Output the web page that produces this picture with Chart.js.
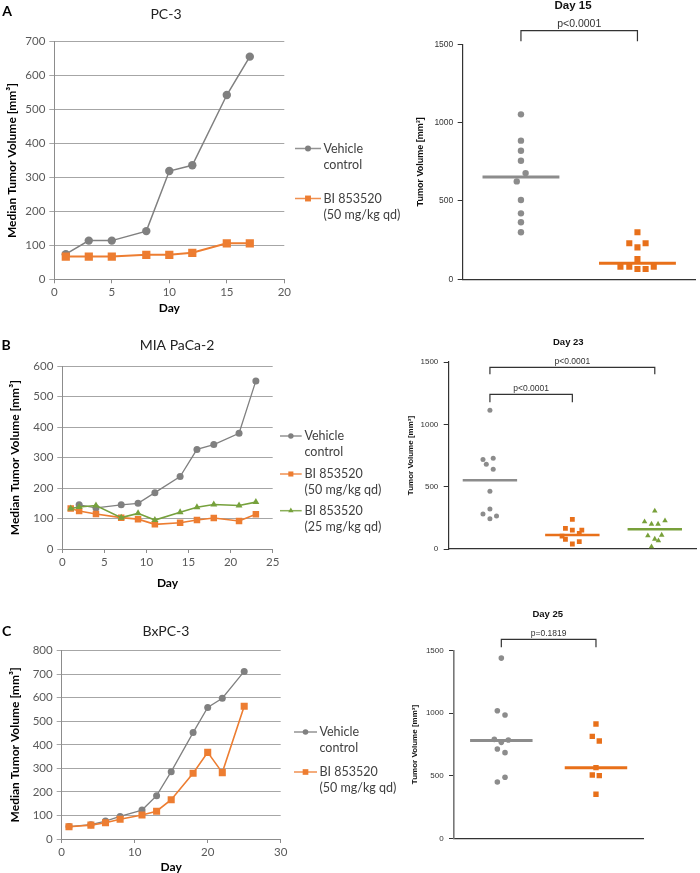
<!DOCTYPE html>
<html>
<head>
<meta charset="utf-8">
<script src="https://cdn.jsdelivr.net/npm/chart.js@4.4.1/dist/chart.umd.min.js"></script>
<style>
  body { margin: 0; background: #fff; }
  #fig { position: relative; width: 700px; height: 873px; overflow: hidden; }
  canvas { position: absolute; }
</style>
</head>
<body>
<div id="fig">
  <canvas id="lineA" width="415" height="320" style="left:0;top:0"></canvas>
  <canvas id="dotA" width="305" height="300" style="left:395px;top:0"></canvas>
  <canvas id="lineB" width="415" height="285" style="left:0;top:310px"></canvas>
  <canvas id="dotB" width="305" height="285" style="left:395px;top:310px"></canvas>
  <canvas id="lineC" width="415" height="273" style="left:0;top:600px"></canvas>
  <canvas id="dotC" width="305" height="273" style="left:395px;top:600px"></canvas>
</div>
<script>
// ---- A: PC-3 ----
const daysA = [1, 3, 5, 8, 10, 12, 15, 17];
const vehicleA = [74, 114, 114, 142, 319, 336, 543, 656];
const bi50A = [67, 67, 67, 72, 72, 78, 106, 106];
// day 15 dot plot (dx = horizontal scatter of the dots)
const vehD15 = [1053, 885, 821, 757, 678, 625, 506, 421, 364, 300];
const vehD15dx = [0, 0, 0, 0, 0.04, -0.036, 0, 0, 0, 0];
const biD15 = [300, 230, 230, 204, 130, 80, 80, 66, 66, 80];
const biD15dx = [0, -0.07, 0.07, 0, 0, -0.146, -0.07, 0, 0.07, 0.14];
const medD15 = [653, 102];

// ---- B: MIA PaCa-2 ----
const daysB = [1, 2, 4, 7, 9, 11, 14, 16, 18, 21, 23];
const vehicleB = [null, 145, 135, 145, 150, 185, 238, 327, 343, 380, 552];
const bi50B = [133, 125, 115, 103, 98, 81, 86, 95, 102, 92, 114];
const bi25B = [133, 138, 143, 103, 117, 95, 121, 137, 146, 143, 154];
// day 23 dot plot
const vehD23 = [1112, 717, 727, 679, 639, 463, 321, 281, 265, 243];
const vehD23dx = [0, -0.084, 0.04, -0.044, 0.04, 0, 0, -0.084, 0.08, 0];
const bi50D23 = [238, 166, 152, 152, 126, 104, 78, 59, 40];
const bi50D23dx = [0, -0.084, 0, 0.115, 0.084, -0.125, -0.084, 0.084, 0];
const bi25D23 = [305, 219, 227, 200, 200, 107, 112, 80, 67, 18];
const bi25D23dx = [0, -0.124, 0.124, -0.04, 0.04, -0.084, 0.084, 0, 0.044, -0.04];
const medD23 = [551, 112, 158];

// ---- C: BxPC-3 ----
const daysC = [1, 4, 6, 8, 11, 13, 15, 18, 20, 22, 25];
const vehicleC = [53, 61, 76, 96, 123, 184, 286, 452, 559, 598, 712];
const bi50C = [52, 59, 69, 84, 102, 118, 167, 279, 368, 282, 564];
// day 25 dot plot
const vehD25 = [1441, 1020, 986, 791, 767, 786, 714, 685, 488, 450];
const vehD25dx = [0, -0.042, 0.039, -0.074, 0, 0.074, -0.042, 0.039, 0.039, -0.042];
const biD25 = [914, 815, 778, 565, 506, 501, 352];
const biD25dx = [0, -0.039, 0.035, 0, -0.039, 0.035, 0];
const medD25 = [781, 565];

const legendVeh = ['Vehicle', 'control'];
const legend50 = ['BI 853520', '(50 mg/kg qd)'];
const legend25 = ['BI 853520', '(25 mg/kg qd)'];

const F_LINE = 'Lato, "Liberation Sans", sans-serif';
const F_DOT = '"Liberation Sans", Arial, sans-serif';
const GRAY = '#808080', ORANGE = '#ed7d31', GREEN = '#76a13c';
const DGRAY = '#8c8c8c', DORANGE = '#e8701a', DGREEN = '#78a03a';

function marker(ctx, style, x, y, r, color) {
    ctx.fillStyle = color;
    ctx.beginPath();
    if (style === 'rect') {
        const s = r * Math.SQRT1_2;
        ctx.rect(x - s, y - s, 2 * s, 2 * s);
    } else if (style === 'triangle') {
        for (let k = 0; k < 3; k++) {
            const a = k * 2 * Math.PI / 3;
            ctx.lineTo(x + Math.sin(a) * r, y - Math.cos(a) * r);
        }
        ctx.closePath();
    } else {
        ctx.arc(x, y, r, 0, 2 * Math.PI);
    }
    ctx.fill();
}

// letters, titles, excel-like legend and p-value brackets
const decoPlugin = {
    id: 'deco',
    afterDraw(chart, args, o) {
        const ctx = chart.ctx;
        ctx.save();
        ctx.textBaseline = 'middle';
        (o.texts || []).forEach(function (t) {
            ctx.font = t.font;
            ctx.fillStyle = t.color || '#000';
            ctx.textAlign = t.align || 'center';
            ctx.fillText(t.text, t.x, t.y);
        });
        if (o.legend) {
            const L = o.legend;
            L.rows.forEach(function (row) {
                const ds = chart.data.datasets[row.ds];
                ctx.strokeStyle = ds.borderColor;
                ctx.lineWidth = 1.5;
                ctx.globalAlpha = 0.85;
                ctx.beginPath();
                ctx.moveTo(L.x0, row.y);
                ctx.lineTo(L.x1, row.y);
                ctx.stroke();
                ctx.globalAlpha = 1;
                marker(ctx, ds.pointStyle, (L.x0 + L.x1) / 2, row.y, ds.pointRadius * L.scale, ds.pointBackgroundColor);
                ctx.font = L.font;
                ctx.fillStyle = '#404040';
                ctx.textAlign = 'left';
                row.lines.forEach(function (s, k) {
                    ctx.fillText(s, L.tx, row.y + k * L.gap);
                });
            });
        }
        if (o.brackets) {
            const xs = chart.scales.x, ys = chart.scales.y;
            o.brackets.forEach(function (b) {
                const x1 = xs.getPixelForValue(b.a), x2 = xs.getPixelForValue(b.b);
                const y = ys.getPixelForValue(b.y), yl = ys.getPixelForValue(b.leg);
                ctx.strokeStyle = '#333';
                ctx.lineWidth = 1.2;
                ctx.beginPath();
                ctx.moveTo(x1, yl);
                ctx.lineTo(x1, y);
                ctx.lineTo(x2, y);
                ctx.lineTo(x2, yl);
                ctx.stroke();
                ctx.font = o.bracketFont;
                ctx.fillStyle = '#333';
                ctx.textAlign = 'center';
                ctx.fillText(b.text, (x1 + x2) / 2, y - o.bracketGap);
            });
        }
        ctx.restore();
    }
};

function pts(xs, ys) {
    return xs.map(function (x, i) { return { x: x, y: ys[i] }; });
}

function lineSet(xs, ys, color, style, r, w, order) {
    return {
        data: pts(xs, ys), borderColor: color, backgroundColor: color,
        pointBackgroundColor: color, pointBorderColor: color, pointBorderWidth: 0,
        pointStyle: style, pointRadius: r, borderWidth: w, order: order, tension: 0
    };
}

function lineChart(id, g, sets, xMax, xStep, yMax, deco) {
    const cv = document.getElementById(id);
    const W = cv.width, H = cv.height;
    return new Chart(cv, {
        type: 'line',
        data: { datasets: sets },
        options: {
            responsive: false, animation: false, devicePixelRatio: 1,
            layout: { padding: { left: 0, top: g.top, right: W - g.right, bottom: 0 } },
            plugins: { legend: { display: false }, tooltip: { enabled: false }, deco: deco },
            scales: {
                x: {
                    type: 'linear', min: 0, max: xMax,
                    ticks: { stepSize: xStep, color: '#595959', font: { family: F_LINE, size: 11.5 }, padding: 2, maxRotation: 0 },
                    grid: { drawOnChartArea: false, tickLength: 4, color: '#8c8c8c' },
                    border: { color: '#8c8c8c' },
                    title: {
                        display: true, text: 'Day', color: '#000',
                        font: { family: F_LINE, size: 12, weight: 'bold' },
                        padding: { top: 0, bottom: H - g.dayY - 7.2 }
                    },
                    afterFit: function (s) { s.height = H - g.bottom; }
                },
                y: {
                    min: 0, max: yMax,
                    ticks: { stepSize: 100, color: '#595959', font: { family: F_LINE, size: 11.5 }, padding: 4 },
                    grid: { color: '#a6a6a6', tickLength: 5 },
                    border: { color: '#8c8c8c' },
                    title: {
                        display: true, text: 'Median Tumor Volume [mm³]', color: '#000',
                        font: { family: F_LINE, size: 12, weight: 'bold' },
                        padding: { top: g.yTitleX - 7.2, bottom: 0 }
                    },
                    afterFit: function (s) { s.width = g.left; }
                }
            }
        },
        plugins: [decoPlugin]
    });
}

function dotSet(group, dx, ys, color, style, r) {
    return {
        data: ys.map(function (y, i) { return { x: group + dx[i], y: y }; }),
        backgroundColor: color, borderColor: color, pointBackgroundColor: color,
        pointStyle: style, pointRadius: r, pointBorderWidth: 0, order: 2
    };
}

function medianSet(group, m, color, w) {
    return {
        data: [{ x: group - 0.33, y: m }, { x: group + 0.33, y: m }],
        borderColor: color, borderWidth: w, pointRadius: 0, showLine: true, order: 1
    };
}

function dotChart(id, g, sets, nGroups, tickSize, titleSize, deco) {
    const cv = document.getElementById(id);
    const W = cv.width, H = cv.height;
    return new Chart(cv, {
        type: 'scatter',
        data: { datasets: sets },
        options: {
            responsive: false, animation: false, devicePixelRatio: 1,
            layout: { padding: { left: 0, top: g.top, right: W - g.right, bottom: 0 } },
            plugins: { legend: { display: false }, tooltip: { enabled: false }, deco: deco },
            scales: {
                x: {
                    type: 'linear', min: 0.5, max: nGroups + 0.5,
                    ticks: { display: false },
                    grid: { drawOnChartArea: false, drawTicks: false },
                    border: { color: '#333', width: 1.2 },
                    afterFit: function (s) { s.height = H - g.bottom; }
                },
                y: {
                    min: 0, max: 1500,
                    ticks: {
                        stepSize: 500, color: '#333', padding: g.pad,
                        font: { family: F_DOT, size: tickSize },
                        callback: function (v) { return String(v); }
                    },
                    grid: { drawOnChartArea: false, tickLength: 5, color: '#333' },
                    border: { color: g.axisColor || '#333', width: g.axisWidth || 1.2 },
                    title: {
                        display: true, text: 'Tumor Volume [mm³]', color: '#111',
                        font: { family: F_DOT, size: titleSize, weight: 'bold' },
                        padding: { top: g.yTitleX - titleSize * 0.6, bottom: 0 }
                    },
                    afterFit: function (s) { s.width = g.left; }
                }
            }
        },
        plugins: [decoPlugin]
    });
}

const bold14 = 'bold 14px ' + F_LINE;
const reg14 = '14px ' + F_LINE;
const leg12 = '12.5px ' + F_LINE;

// ---- panel A ----
lineChart('lineA', { left: 54.3, right: 284.3, top: 41.7, bottom: 279.3, dayY: 308.3, yTitleX: 12 },
    [lineSet(daysA, vehicleA, GRAY, 'circle', 4.2, 1.5, 2),
     lineSet(daysA, bi50A, ORANGE, 'rect', 5.8, 2, 1)],
    20, 5, 700,
    {
        texts: [{ text: 'A', x: 7, y: 11.5, font: bold14 }, { text: 'PC-3', x: 166, y: 14.3, font: reg14, color: '#222' }],
        legend: {
            x0: 295, x1: 321, tx: 323.5, gap: 16.5, font: leg12, scale: 0.72,
            rows: [{ ds: 0, y: 148.5, lines: legendVeh }, { ds: 1, y: 198.5, lines: legend50 }]
        }
    });

dotChart('dotA', { left: 67.7, right: 303, top: 44.3, bottom: 279.3, yTitleX: 25.5, pad: 4.4 },
    [dotSet(1, vehD15dx, vehD15, DGRAY, 'circle', 3.2),
     dotSet(2, biD15dx, biD15, DORANGE, 'rect', 4.3),
     medianSet(1, medD15[0], DGRAY, 3),
     medianSet(2, medD15[1], DORANGE, 3)],
    2, 8.5, 9,
    {
        texts: [{ text: 'Day 15', x: 178, y: 6, font: 'bold 11.5px ' + F_DOT, color: '#111' }],
        brackets: [{ a: 1, b: 2, y: 1587, leg: 1519, text: 'p<0.0001' }],
        bracketFont: '10.5px ' + F_DOT, bracketGap: 6.8
    });

// ---- panel B ----
lineChart('lineB', { left: 62.3, right: 272.7, top: 56.3, bottom: 239, dayY: 273.3, yTitleX: 15.5 },
    [lineSet(daysB, vehicleB, GRAY, 'circle', 3.5, 1.3, 3),
     lineSet(daysB, bi50B, ORANGE, 'rect', 4.6, 1.6, 2),
     lineSet(daysB, bi25B, GREEN, 'triangle', 4, 1.6, 1)],
    25, 5, 600,
    {
        texts: [{ text: 'B', x: 6, y: 35, font: bold14 }, { text: 'MIA PaCa-2', x: 177, y: 35, font: reg14, color: '#222' }],
        legend: {
            x0: 280, x1: 301.7, tx: 304.5, gap: 16.3, font: leg12, scale: 0.78,
            rows: [{ ds: 0, y: 126, lines: legendVeh }, { ds: 1, y: 164, lines: legend50 },
                   { ds: 2, y: 200.7, lines: legend25 }]
        }
    });

dotChart('dotB', { left: 53.7, right: 304, top: 52, bottom: 239, yTitleX: 15.8, pad: 5.4 },
    [dotSet(1, vehD23dx, vehD23, DGRAY, 'circle', 2.5),
     dotSet(2, bi50D23dx, bi50D23, DORANGE, 'rect', 3.4),
     dotSet(3, bi25D23dx, bi25D23, DGREEN, 'triangle', 3.2),
     medianSet(1, medD23[0], DGRAY, 2.5),
     medianSet(2, medD23[1], DORANGE, 2.5),
     medianSet(3, medD23[2], DGREEN, 2.5)],
    3, 8, 8,
    {
        texts: [{ text: 'Day 23', x: 173.3, y: 32.3, font: 'bold 9.5px ' + F_DOT, color: '#111' }],
        brackets: [{ a: 1, b: 3, y: 1457, leg: 1401, text: 'p<0.0001' },
                   { a: 1, b: 2, y: 1241, leg: 1177, text: 'p<0.0001' }],
        bracketFont: '8.5px ' + F_DOT, bracketGap: 5.8
    });

// ---- panel C ----
lineChart('lineC', { left: 61.7, right: 280.7, top: 50.7, bottom: 239, dayY: 267.3, yTitleX: 15.5 },
    [lineSet(daysC, vehicleC, GRAY, 'circle', 3.5, 1.3, 2),
     lineSet(daysC, bi50C, ORANGE, 'rect', 5, 1.6, 1)],
    30, 10, 800,
    {
        texts: [{ text: 'C', x: 6.7, y: 31.5, font: bold14 }, { text: 'BxPC-3', x: 166, y: 31, font: reg14, color: '#222' }],
        legend: {
            x0: 294, x1: 317, tx: 319.5, gap: 16, font: leg12, scale: 0.8,
            rows: [{ ds: 0, y: 132, lines: legendVeh }, { ds: 1, y: 172, lines: legend50 }]
        }
    });

dotChart('dotC', { left: 59, right: 248.3, top: 50.7, bottom: 238.3, yTitleX: 20, pad: 5.3, axisColor: '#777', axisWidth: 1.6 },
    [dotSet(1, vehD25dx, vehD25, DGRAY, 'circle', 2.8),
     dotSet(2, biD25dx, biD25, DORANGE, 'rect', 3.8),
     medianSet(1, medD25[0], DGRAY, 3),
     medianSet(2, medD25[1], DORANGE, 3)],
    2, 8, 8,
    {
        texts: [{ text: 'Day 25', x: 152.7, y: 14.3, font: 'bold 9.5px ' + F_DOT, color: '#111' }],
        brackets: [{ a: 1, b: 2, y: 1591, leg: 1527, text: 'p=0.1819' }],
        bracketFont: '8.5px ' + F_DOT, bracketGap: 5.5
    });
</script>
</body>
</html>
